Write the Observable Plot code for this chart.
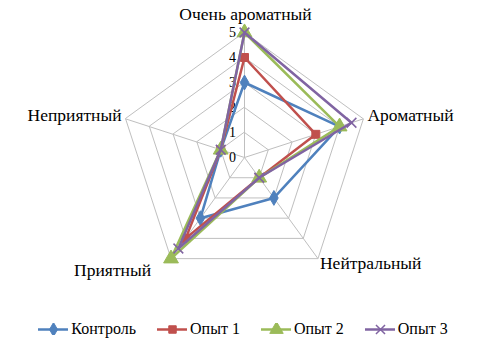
<!DOCTYPE html>
<html><head><meta charset="utf-8">
<script src="https://cdn.jsdelivr.net/npm/d3@7"></script>
<script src="https://cdn.jsdelivr.net/npm/@observablehq/plot@0.6"></script>
<style>
body{margin:0;background:#fff;font-family:"Liberation Serif","DejaVu Serif",serif;}
#legend{display:flex;justify-content:center;align-items:center;height:38px;font-size:16px;color:#000;font-family:"Liberation Serif",serif;}
.item{display:flex;align-items:center;margin:0 10.5px;}
.item svg{margin-right:3px;}
</style></head>
<body><div id="chart"></div><div id="legend"></div>
<script>
const categories = ["Очень ароматный","Ароматный","Нейтральный","Приятный","Неприятный"];
const seriesNames = ["Контроль","Опыт 1","Опыт 2","Опыт 3"];
const control = [3, 4, 2, 3, 1];
const exp1 = [4, 3, 1, 4, 1];
const exp2 = [5, 4, 1, 5, 1];
const exp3 = [5, 4.5, 1, 4.5, 1];
const tickLabels = ["0","1","2","3","4","5"];
const colors = ["#4F81BD","#C0504D","#9BBB59","#8064A2"];
const symbols = ["diamond","square","triangle","times"];

const seriesValues = [control, exp1, exp2, exp3];
const maxV = 5;
const n = categories.length;
const ang = i => 2*Math.PI*i/n;
const px = (i,v) => v*Math.sin(ang(i));
const py = (i,v) => v*Math.cos(ang(i));

const W = 486, H = 310, cx = 244, cy = 157, unit = 25;
const FONT = '"Liberation Serif", serif';

const rings = [];
for (let l=1;l<=maxV;l++) for (let i=0;i<n;i++) rings.push({l, x:px(i,l), y:py(i,l)});
const spokes = categories.map((c,i)=>({x:px(i,maxV), y:py(i,maxV)}));
const ticks = tickLabels.map((t,k)=>({t, x:0, y:k}));
const pts = [];
seriesNames.forEach((s,si)=>seriesValues[si].forEach((v,i)=>pts.push({s, i, x:px(i,v), y:py(i,v)})));

const labelCfg = [
  {anchor:"middle", dx:1, dy:-18},
  {anchor:"start", dx:4, dy:-3},
  {anchor:"start", dx:2, dy:5},
  {anchor:"end", dx:-20, dy:12},
  {anchor:"end", dx:-4, dy:-3}
];
const labels = categories.map((c,i)=>({c, x:px(i,maxV), y:py(i,maxV), ...labelCfg[i]}));

const marks = [
  Plot.line(rings, {x:"x", y:"y", z:"l", curve:"linear-closed", stroke:"#BFBFBF", strokeWidth:1}),
  Plot.link(spokes, {x1:0, y1:0, x2:"x", y2:"y", stroke:"#BFBFBF", strokeWidth:1}),
  Plot.text(ticks, {x:"x", y:"y", text:"t", dx:-12, fontSize:14, fill:"#000", textAnchor:"middle", fontFamily:FONT}),
  ...labelCfg.map((cfg,i)=>Plot.text([labels[i]], {x:"x", y:"y", text:"c", dx:cfg.dx, dy:cfg.dy, textAnchor:cfg.anchor, fontSize:17.5, fill:"#000", fontFamily:FONT})),
  ...seriesNames.map((s,si)=>[
    Plot.line(pts.filter(d=>d.s===s), {x:"x", y:"y", curve:"linear-closed", stroke:colors[si], strokeWidth:2.5}),
    Plot.dot(pts.filter(d=>d.s===s), {x:"x", y:"y", symbol:()=>symbols[si], r: si===2?5.5:4.5,
      fill: si===3?"none":colors[si], stroke:colors[si], strokeWidth: si===3?1.5:1})
  ]).flat()
];

const chart = Plot.plot({
  width: W, height: H, margin: 0,
  style: {fontFamily: FONT, background: "#fff"},
  x: {type:"linear", domain:[-cx/unit, (W-cx)/unit], range:[0, W], axis:null},
  y: {type:"linear", domain:[-(H-cy)/unit, cy/unit], range:[H, 0], axis:null},
  symbol: {type:"identity"},
  marks
});
document.getElementById("chart").append(chart);

const leg = document.getElementById("legend");
seriesNames.forEach((s,si)=>{
  const it = document.createElement("div"); it.className="item";
  const sw = Plot.plot({width:30, height:12, margin:0, x:{domain:[0,30], range:[0,30], axis:null}, y:{domain:[0,12], range:[12,0], axis:null}, symbol:{type:"identity"},
    marks:[Plot.ruleY([6], {x1:0, x2:30, stroke:colors[si], strokeWidth:2.5}),
           Plot.dot([{x:15,y:6}], {x:"x", y:"y", symbol:()=>symbols[si], r:si===2?5:4.2, fill:si===3?"none":colors[si], stroke:colors[si], strokeWidth:si===3?1.5:1})]});
  it.append(sw);
  const t = document.createElement("span"); t.textContent = s; it.append(t);
  leg.append(it);
});
</script></body></html>
